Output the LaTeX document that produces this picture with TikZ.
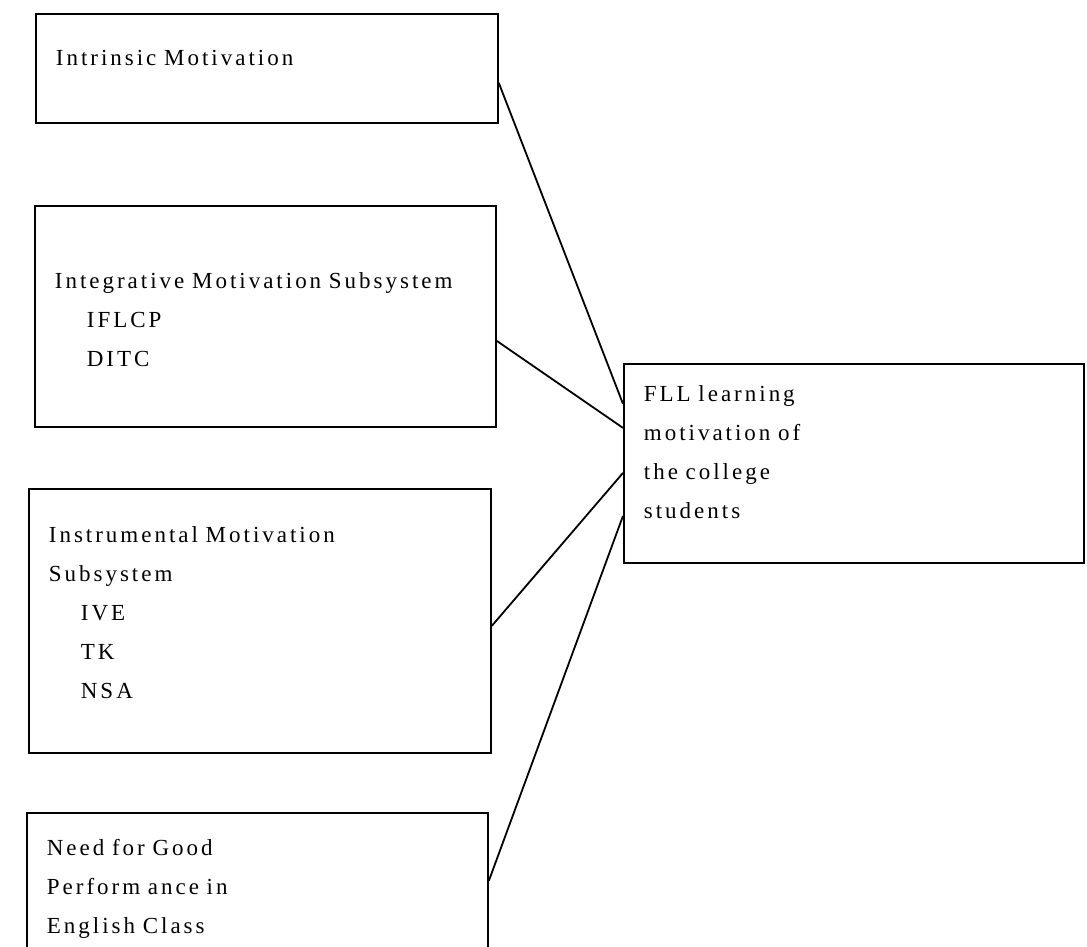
\documentclass[tikz,border=0pt]{standalone}
\usepackage{fontspec}
\setmainfont{Liberation Serif}[LetterSpace=13]
\usepackage{tikz}

\begin{document}
\begin{tikzpicture}[
            x = 1pt, y = -1pt,
            every node/.style = {
                draw,
                rectangle,
                line width = 1.8pt,
                align = left,
                anchor = north west,
                inner xsep = 20pt,
                inner ysep = 0pt,
                text height = 16pt,
                font = \fontsize{23}{39}\selectfont
            },
            factor/.style = {
                text width = 421pt
            },
            goal/.style = {
                text width = 420pt
            },
            link/.style = {
                line width = 1.8pt
            }
        ]
            \useasboundingbox (0,0) rectangle (1087,946);

            % the four sources on the left
            \node[factor, text width = 422pt, minimum height = 109pt, text depth = 21pt] (intr) at (35,13) {
                Intrinsic Motivation
            };
            \node[factor, minimum height = 221pt, text depth = 71pt] (integ) at (34,205) {
                Integrative Motivation Subsystem \\
                \hspace*{32pt}IFLCP \\
                \hspace*{32pt}DITC
            };
            \node[factor, text width = 422pt, minimum height = 264pt, text depth = 172pt] (instr) at (28,488) {
                Instrumental Motivation \\
                Subsystem \\
                \hspace*{32pt}IVE \\
                \hspace*{32pt}TK \\
                \hspace*{32pt}NSA
            };
            \node[factor, minimum height = 154pt, text depth = 84pt] (need) at (26,812) {
                Need for Good \\
                Perform ance in \\
                English Class
            };

            % the target on the right
            \node[goal, minimum height = 199pt, text depth = 139pt] (fll) at (623,363) {
                FLL learning \\
                motivation of \\
                the college \\
                students
            };

            \draw[link] ([yshift = -14.5pt]intr.east) -- ([yshift = 59.5pt]fll.west);
            \draw[link] ([yshift = -24.5pt]integ.east) -- ([yshift = 35.5pt]fll.west);
            \draw[link] ([yshift = -5pt]instr.east) -- ([yshift = -9.5pt]fll.west);
            \draw[link] ([yshift = 9pt]need.east) -- ([yshift = -52.5pt]fll.west);
        \end{tikzpicture}
\end{document}
